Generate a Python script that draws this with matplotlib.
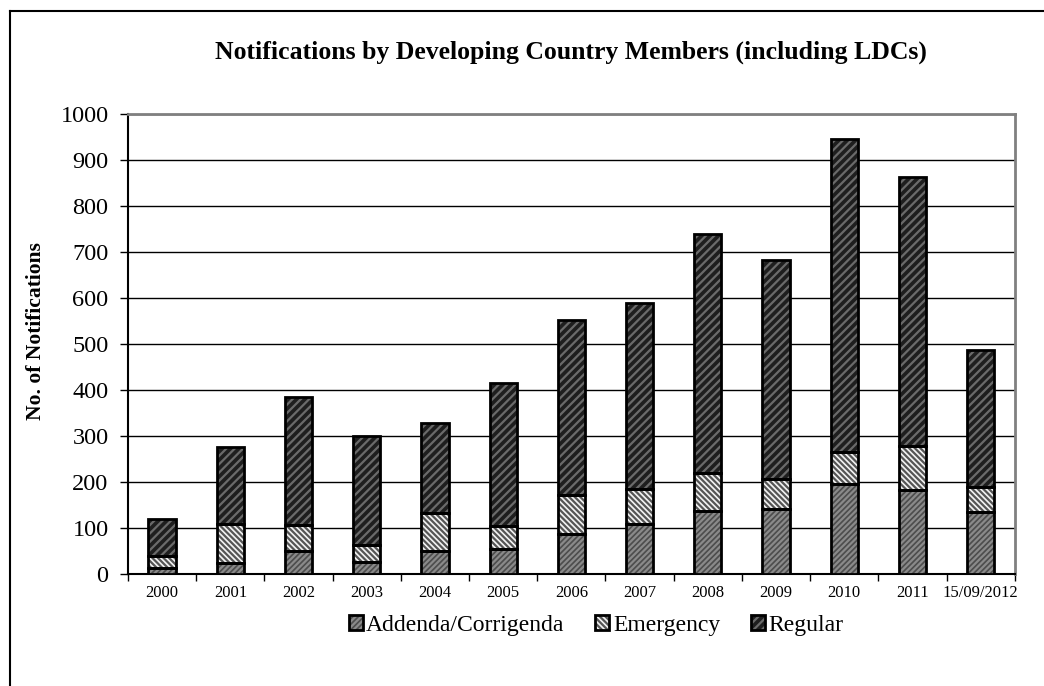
import numpy as np
import matplotlib
matplotlib.use("Agg")
import matplotlib.pyplot as plt
from matplotlib.legend_handler import HandlerTuple

plt.rcParams['font.family'] = ['Liberation Serif', 'DejaVu Serif']
plt.rcParams['hatch.linewidth'] = 1.6

years = ["2000", "2001", "2002", "2003", "2004", "2005", "2006", "2007",
         "2008", "2009", "2010", "2011", "15/09/2012"]
addenda = [12, 23, 50, 26, 50, 54, 87, 109, 137, 141, 196, 183, 135]
emergency = [28, 86, 57, 37, 83, 50, 85, 76, 82, 65, 69, 95, 54]
regular = [80, 166, 277, 237, 195, 312, 380, 405, 521, 477, 680, 584, 299]

series = [
    ("Addenda/Corrigenda", addenda, "#4d4d4d", "#8a8a8a", "//////"),
    ("Emergency", emergency, "#f2f2f2", "#555555", "\\\\\\\\\\\\"),
    ("Regular", regular, "#1e1e1e", "#6a6a6a", "////"),
]

fig = plt.figure(figsize=(10.44, 6.86), dpi=100)
ax = fig.add_axes([0.1226, 0.1633, 0.8494, 0.6705])

x = np.arange(len(years))
bottom = np.zeros(len(years))
handles = []
for name, vals, face, hcol, hatch in series:
    vals = np.array(vals, dtype=float)
    fill = ax.bar(x, vals, 0.4, bottom=bottom, color=face, edgecolor=hcol,
                  hatch=hatch, linewidth=0, zorder=3)
    edge = ax.bar(x, vals, 0.4, bottom=bottom, fill=False, edgecolor="black",
                  linewidth=2, zorder=4)
    handles.append((fill.patches[0], edge.patches[0]))
    bottom += vals

ax.set_ylim(0, 1000)
ax.set_yticks(np.arange(0, 1001, 100))
ax.set_xlim(-0.5, len(years) - 0.5)
ax.set_xticks(x)
ax.set_xticklabels(years, fontsize=12)
ax.set_xticks(np.arange(-0.5, len(years), 1), minor=True)
ax.tick_params(axis="x", which="major", length=0, pad=8)
ax.tick_params(axis="x", which="minor", length=5, direction="out", width=1)
ax.tick_params(axis="y", length=6, direction="out", width=1, labelsize=17.5, pad=8)
ax.yaxis.grid(True, color="black", linewidth=1, zorder=0)
ax.set_axisbelow(True)

ax.spines["left"].set_linewidth(1.5)
ax.spines["bottom"].set_linewidth(1.5)
ax.spines["top"].set_color("#808080")
ax.spines["right"].set_color("#808080")
ax.spines["top"].set_linewidth(2)
ax.spines["right"].set_linewidth(2)

fig.text(0.0345, 0.517, "No. of Notifications", rotation=90, ha="center", va="center",
         fontsize=15.5, fontweight="bold")
fig.text(0.547, 0.924, "Notifications by Developing Country Members (including LDCs)",
         ha="center", va="center", fontsize=18.5, fontweight="bold")

fig.legend(handles, [s[0] for s in series], loc="center", bbox_to_anchor=(0.571, 0.088),
           ncol=3, frameon=False, fontsize=17, handlelength=0.6, handleheight=0.6,
           handletextpad=0.15, columnspacing=1.3,
           handler_map={tuple: HandlerTuple(ndivide=1, pad=0)})

# outer frame (left and top edges visible)
fig.add_artist(plt.Line2D([0.0096, 0.0096], [0.984, 0.0], color="black", linewidth=1.5))
fig.add_artist(plt.Line2D([0.0096, 1.0], [0.984, 0.984], color="black", linewidth=1.5))

fig.savefig("out.png", dpi=100)
